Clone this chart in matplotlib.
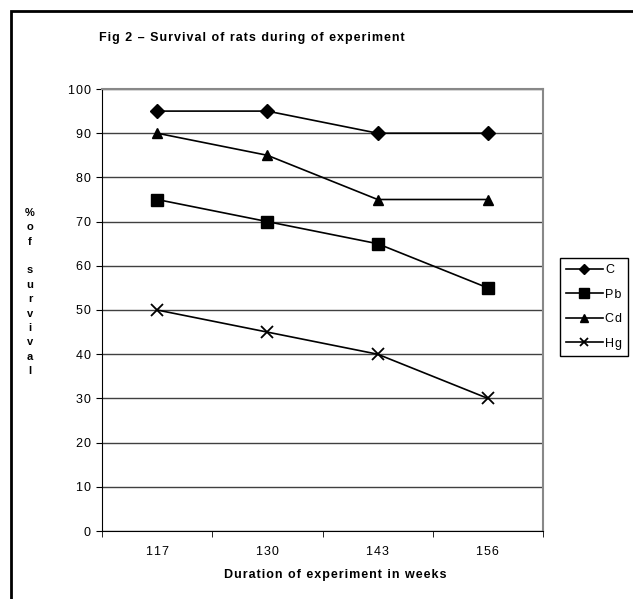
import matplotlib
matplotlib.use("Agg")
import matplotlib.pyplot as plt
import matplotlib.patches as mpatches
import numpy as np

weeks = ["117", "130", "143", "156"]
c_vals = [95, 95, 90, 90]
pb_vals = [75, 70, 65, 55]
cd_vals = [90, 85, 75, 75]
hg_vals = [50, 45, 40, 30]

plt.rcParams['font.family'] = ['Liberation Sans', 'DejaVu Sans']

def spaced(s):
	# the original chart has wide letter spacing
	return "\u200a".join(s)

fig = plt.figure(figsize=(6.33, 5.99), dpi=100)
ax = fig.add_axes([102 / 633, 1 - 531 / 599, 441 / 633, 442 / 599])

# outer chart border
border = mpatches.Rectangle((11 / 633, -0.05), 1.0, 1 - 11 / 599 + 0.05,
	transform=fig.transFigure, fill=False, edgecolor="black", linewidth=2)
fig.patches.append(border)

x = np.arange(len(weeks))
ax.plot(x, c_vals, color="black", lw=1.2, marker="D", ms=7, label=spaced("C"))
ax.plot(x, pb_vals, color="black", lw=1.2, marker="s", ms=8.5, label=spaced("Pb"))
ax.plot(x, cd_vals, color="black", lw=1.2, marker="^", ms=7.5, label=spaced("Cd"))
ax.plot(x, hg_vals, color="black", lw=1.2, marker="x", ms=8, mew=1.3, label=spaced("Hg"))

ax.set_xlim(-0.5, 3.5)
ax.set_ylim(0, 100)
ax.set_yticks(range(0, 101, 10))
ax.set_yticklabels([spaced(str(v)) for v in range(0, 101, 10)])
ax.yaxis.grid(True, color="#404040", lw=1)
ax.set_axisbelow(True)
ax.set_xticks(x)
ax.set_xticklabels([spaced(w) for w in weeks])
ax.set_xticks(np.arange(-0.5, 4, 1), minor=True)
ax.tick_params(axis="x", which="major", length=0, pad=11, labelsize=9)
ax.tick_params(axis="x", which="minor", length=4, direction="out", color="black")
ax.tick_params(axis="y", length=4, direction="out", labelsize=9, pad=4)

for s in ["top", "right"]:
	ax.spines[s].set_color("#888888")
	ax.spines[s].set_linewidth(1.5)
ax.spines["left"].set_color("black")
ax.spines["bottom"].set_color("black")

ax.set_xlabel(spaced("Duration of experiment in weeks"), fontsize=9, fontweight="bold")
ax.xaxis.set_label_coords((335 - 102) / 441, -(569 - 531) / 442)

fig.text(252 / 633, 1 - 38 / 599, spaced("Fig 2 – Survival of rats during of experiment"),
	ha="center", va="center", fontsize=9, fontweight="bold")

fig.text(30 / 633, 1 - 292 / 599, "\n".join("%of survival"),
	ha="center", va="center", fontsize=8, fontweight="bold", linespacing=1.55)

fig.legend(loc="upper left", bbox_to_anchor=(560 / 633, 1 - 258 / 599),
	fancybox=False, edgecolor="black", framealpha=1, fontsize=9,
	handlelength=2.9, borderaxespad=0, labelspacing=1.0, handletextpad=0.2,
	borderpad=0.5, markerscale=0.8)

plt.savefig("out.png", dpi=100)
